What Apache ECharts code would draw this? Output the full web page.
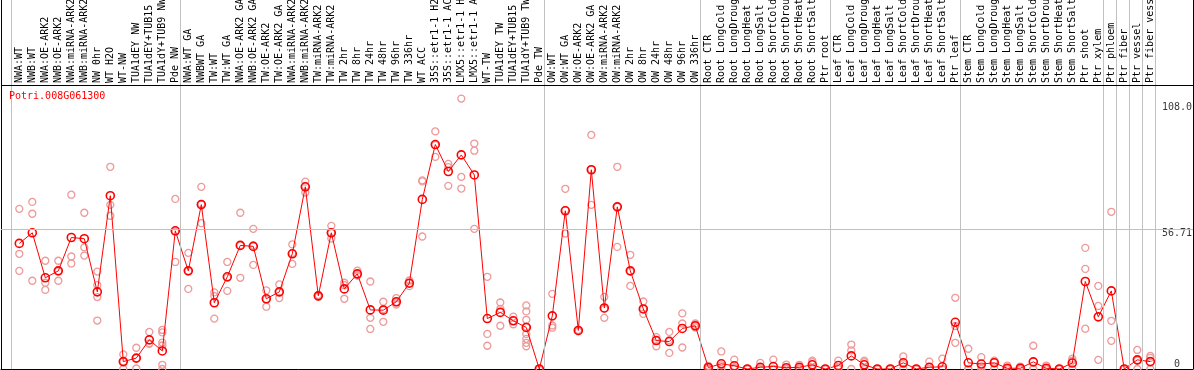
<!DOCTYPE html>
<html><head><meta charset="utf-8">
<script src="https://cdn.jsdelivr.net/npm/echarts@6/dist/echarts.min.js"></script>
<style>html,body{margin:0;padding:0;background:#fff}#c{width:1194px;height:370px}</style>
</head><body><div id="c"></div>
<script>
const geneName = 'Potri.008G061300';
const categories = [
  'NWA:WT','NWB:WT','NWA:OE-ARK2','NWB:OE-ARK2','NWA:miRNA-ARK2','NWB:miRNA-ARK2','NW 0hr','WT H2O','WT-NW','TUA1dEY NW','TUA1dEY+TUB15 NW','TUA1dY+TUB9 NW','Pde NW',
  'NWA:WT GA','NWBWT GA','TW:WT','TW:WT GA','NWA:OE-ARK2 GA','NWB:OE-ARK2 GA','TW:OE-ARK2','TW:OE-ARK2 GA','NWA:miRNA-ARK2 GA','NWB:miRNA-ARK2 GA','TW:miRNA-ARK2','TW:miRNA-ARK2',
  'TW 2hr','TW 8hr','TW 24hr','TW 48hr','TW 96hr','TW 336hr','WT ACC','35S::etr1-1 H2O','35S::etr1-1 ACC','LMX5::etr1-1 H2O','LMX5::etr1-1 ACC','WT-TW','TUA1dEY TW','TUA1dEY+TUB15 TW','TUA1dY+TUB9 TW','Pde TW',
  'OW:WT','OW:WT GA','OW:OE-ARK2','OW:OE-ARK2 GA','OW:miRNA-ARK2','OW:miRNA-ARK2','OW 2hr','OW 8hr','OW 24hr','OW 48hr','OW 96hr','OW 336hr',
  'Root CTR','Root LongCold','Root LongDrought','Root LongHeat','Root LongSalt','Root ShortCold','Root ShortDrought','Root ShortHeat','Root ShortSalt','Ptr root',
  'Leaf CTR','Leaf LongCold','Leaf LongDrought','Leaf LongHeat','Leaf LongSalt','Leaf ShortCold','Leaf ShortDrought','Leaf ShortHeat','Leaf ShortSalt','Ptr leaf',
  'Stem CTR','Stem LongCold','Stem LongDrought','Stem LongHeat','Stem LongSalt','Stem ShortCold','Stem ShortDrought','Stem ShortHeat','Stem ShortSalt','Ptr shoot','Ptr xylem',
  'Ptr phloem','Ptr fiber','Ptr vessel','Ptr fiber vessel'
];
const meanValues = [
  50.8,55.1,36.9,39.7,53.2,52.7,31.2,70.1,3.0,4.4,11.8,7.3,55.9,
  39.7,66.5,26.8,37.3,50.0,49.6,28.4,31.2,46.6,73.7,29.6,55.1,
  32.4,38.5,23.9,23.8,27.2,34.7,68.6,90.8,79.9,86.6,78.5,20.4,22.9,19.5,16.8,0,
  21.5,64.0,15.6,80.6,24.7,65.6,39.7,24.3,11.5,11.1,16.4,17.5,
  0.6,2.1,1.3,0,0.7,1.0,0.5,0.7,1.7,0,
  1.4,5.3,1.7,0,0,2.5,0,0.7,0.9,18.9,
  2.5,2.0,2.5,0.3,0.3,2.9,0.3,0,2.4,35.4,21.1,
  31.6,0,3.7,3.0
];
const replicateValues = [
  [64.8,46.6,39.7],[67.6,62.8,35.7],[43.8,34.9,32.0],[43.8,39.6,35.7],[70.5,45.5,42.7],[63.2,49.2,45.9],
  [39.4,33.9,29.1,19.6],[81.8,66.4,62.0],[5.9,3.0,0],[8.6,4.4,0.2],[15.0,10.2,10.4],[15.8,14.8,10.7,9.5,1.7,0],[68.8,55.6,43.3],
  [47.0,39.7,32.4],[73.7,66.8,59.0],[31.0,29.5,20.4],[43.3,37.0,31.6],[63.2,50.0,36.9],[56.7,50.0,42.1],
  [31.8,28.2,25.2],[34.2,31.0,28.7],[50.4,46.8,42.5],[75.8,73.9,71.4],[30.0,29.6,29.2],[57.9,55.0,52.8],
  [34.9,33.9,28.4],[39.8,38.0,37.8],[35.4,20.7,16.2],[27.2,24.2,19.1],[28.7,27.0,26.1],[35.8,34.7,33.5],
  [76.3,75.9,53.6],[96.1,90.6,85.8],[83.0,81.7,74.1],[109.4,77.7,73.0],[91.2,88.3,56.7],[37.3,14.2,9.4],
  [26.9,24.3,17.5],[21.2,19.5,18.1],[25.7,23.3,19.9,17.1,14.2,12.2,10.6,9.2],[0,0,0],
  [30.4,17.6,16.7],[72.9,64.3,54.8],[15.8,15.6,15.2],[94.7,80.7,66.4],[29.2,24.3,20.7],[81.8,65.6,49.4],
  [46.2,39.5,33.6],[27.3,24.3,22.3],[12.9,11.5,9.2],[15.0,11.7,6.5],[22.5,18.4,8.7],[18.4,17.5,16.8],
  [1.3,0.6,0],[7.1,1.5,0],[3.8,0.5,0],[0,0,0],[2.5,0.3,0],[3.8,0,0],[1.8,0,0],[1.7,0.4,0],[3.4,2.8,0],[0,0,0],
  [3.4,0.6,0],[9.9,7.5,0],[3.4,2.8,0],[0,0,0],[0,0,0],[5.1,2.0,0],[0,0,0],[3.0,0,0],[4.2,0,0],[28.8,17.4,10.6],
  [8.2,0,0],[4.8,1.1,0],[3.4,2.8,0],[1.4,0,0],[1.0,0,0],[9.4,0,0],[1.4,0,0],[0,0,0],[4.2,3.4,0],[49.0,40.5,16.3],[33.6,25.5,3.7],
  [63.6,19.5,11.4],[0,0,0],[7.7,3.4,0],[5.3,4.5,0]
];
const groupStarts = [0,13,41,53,63,73,84,85,86,87,88];
const yTickValues = [0, 56.71, 108.0];
const yTickLabels = ['0', '56.71', '108.0'];

const FONT = 'DejaVu Sans Mono';
const X_MIN = -1.408, X_MAX = 90.285;   // 13 px per category across the frame
const Y_MAX = 149.27;                   // value at top edge of canvas
const HEADER_LINE = 114.9;              // value at the header/plot divider
const SEP_OFFSET = 0.62;
const TICK_X = 89.05;

const chart = echarts.init(document.getElementById('c'), null, {renderer: 'canvas'});

const repData = [];
replicateValues.forEach((arr, i) => arr.forEach(v => repData.push([i, v])));

const hiddenAxisParts = {axisTick: {show: false}, axisLabel: {show: false}, splitLine: {show: false}};

chart.setOption({
  animation: false,
  backgroundColor: '#fff',
  title: {
    text: geneName, left: 9, top: 91, padding: 0,
    textStyle: {color: '#ff0000', fontSize: 10, fontFamily: FONT, fontWeight: 'normal'}
  },
  grid: [
    {left: 1, right: 1, top: 0, bottom: 1, show: false, containLabel: false, outerBoundsMode: 'none'},
    {left: 12.8, right: 37.2, top: 85, bottom: 1, show: false, containLabel: false, outerBoundsMode: 'none'}
  ],
  xAxis: [
    Object.assign({type: 'value', gridIndex: 0, min: X_MIN, max: X_MAX, position: 'bottom',
      axisLine: {show: true, onZero: false, lineStyle: {color: '#000', width: 1}}}, hiddenAxisParts),
    {type: 'category', gridIndex: 1, data: categories, position: 'top', boundaryGap: true,
      axisLine: {show: false}, axisTick: {show: false}, splitLine: {show: false},
      axisLabel: {interval: 0, rotate: 90, margin: 2, fontSize: 10, fontFamily: FONT, color: '#000', hideOverlap: false}}
  ],
  yAxis: [
    Object.assign({type: 'value', gridIndex: 0, min: 0, max: Y_MAX, position: 'left',
      axisLine: {show: true, onZero: false, lineStyle: {color: '#000', width: 1}}}, hiddenAxisParts),
    Object.assign({type: 'value', gridIndex: 0, min: 0, max: Y_MAX, position: 'right',
      axisLine: {show: true, onZero: false, lineStyle: {color: '#000', width: 1}}}, hiddenAxisParts),
    {type: 'value', gridIndex: 1, min: 0, max: 1, show: false}
  ],
  series: [
    {
      type: 'line', xAxisIndex: 0, yAxisIndex: 0, data: [], z: 1, silent: true,
      markLine: {
        silent: true, symbol: ['none', 'none'], label: {show: false}, animation: false,
        lineStyle: {color: '#c0c0c0', width: 1, type: 'solid'},
        data: groupStarts.map(k => ({xAxis: k - SEP_OFFSET}))
          .concat([{yAxis: yTickValues[1]},
                   {yAxis: HEADER_LINE, lineStyle: {color: '#000', width: 1, type: 'solid'}}])
      }
    },
    {
      type: 'scatter', xAxisIndex: 0, yAxisIndex: 0, data: repData, z: 2, silent: true,
      symbol: 'circle', symbolSize: 7,
      itemStyle: {color: 'rgba(0,0,0,0)', borderColor: '#ee9a9a', borderWidth: 1.3, opacity: 1}
    },
    {
      type: 'line', xAxisIndex: 0, yAxisIndex: 0, z: 3, silent: true,
      data: meanValues.map((v, i) => [i, v]),
      symbol: 'circle', symbolSize: 8, showSymbol: true, showAllSymbol: true,
      itemStyle: {color: 'rgba(0,0,0,0)', borderColor: '#ff0000', borderWidth: 1.6},
      lineStyle: {color: '#ff0000', width: 1}
    },
    {
      type: 'scatter', xAxisIndex: 0, yAxisIndex: 0, z: 4, silent: true,
      symbolSize: 1, itemStyle: {color: 'rgba(0,0,0,0)', borderWidth: 0},
      data: yTickValues.map((v, k) => ({value: [TICK_X, v], label: {verticalAlign: v === 0 ? 'bottom' : 'top'}})),
      label: {show: true, position: 'inside', align: 'center', fontSize: 10, fontFamily: FONT, color: '#000',
        formatter: p => yTickLabels[p.dataIndex]}
    }
  ]
});
</script>
</body></html>
